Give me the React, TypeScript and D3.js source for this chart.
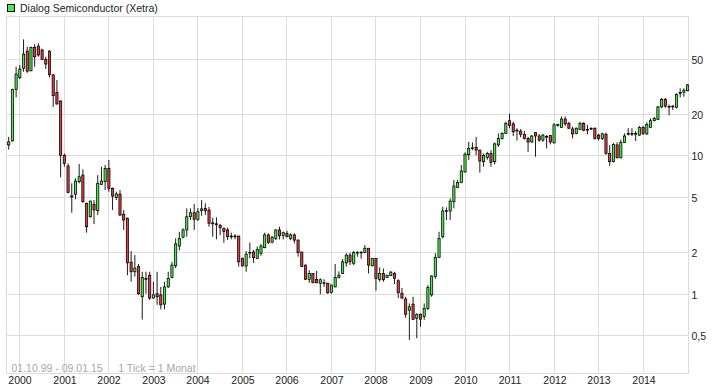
import React from 'react';
import * as d3 from 'd3';

// Monthly candles, Oct 1999 .. Jan 2015
const months: Date[] = d3.timeMonth.range(new Date(1999, 9, 1), new Date(2015, 1, 1));

const openP = [
  11.9, 12.7, 30.0, 36.4, 42.6, 56.7, 40.8, 60.3, 61.6, 57.7, 49.4, 56.7,
  38.2, 28.5, 24.7, 10.0, 8.37, 5.1, 5.23, 6.45, 7.2, 4.5, 3.6, 4.43,
  3.98, 6.17, 6.45, 8.05, 5.77, 4.97, 5.25, 3.75, 3.51, 1.69, 1.44, 1.57,
  0.95, 1.29, 1.36, 0.93, 1.0, 0.98, 0.84, 1.12, 1.31, 1.59, 2.21, 2.56,
  2.89, 3.6, 3.85, 3.45, 4.0, 4.14, 4.02, 3.25, 3.2, 3.12, 2.97, 2.89,
  2.61, 2.6, 2.61, 1.8, 1.585, 1.97, 2.0, 1.8, 1.96, 2.15, 2.66, 2.36,
  2.51, 2.89, 2.64, 2.73, 2.51, 2.66, 2.44, 2.0, 1.61, 1.27, 1.4, 1.27,
  1.19, 1.19, 1.19, 1.02, 1.12, 1.31, 1.4, 1.67, 1.9, 1.66, 1.97, 1.99,
  1.99, 2.13, 1.59, 1.8, 1.27, 1.4, 1.31, 1.35, 1.4, 1.24, 1.007, 0.915,
  0.76, 0.84, 0.664, 0.71, 0.685, 0.784, 0.98, 1.33, 1.83, 2.58, 3.96, 3.96,
  4.62, 5.87, 6.37, 7.59, 10.1, 11.3, 11.4, 10.9, 9.0, 9.65, 10.3, 9.0,
  11.9, 13.25, 14.4, 17.8, 16.9, 15.0, 14.95, 14.2, 13.25, 12.5, 14.6, 13.8,
  12.9, 13.7, 13.9, 12.3, 16.6, 15.9, 18.3, 17.0, 15.5, 14.4, 15.4, 17.0,
  15.3, 15.6, 15.7, 14.0, 13.25, 14.2, 10.3, 9.0, 11.9, 9.6, 12.4, 14.3,
  14.4, 14.3, 14.0, 15.9, 14.3, 15.9, 17.8, 18.2, 22.4, 25.4, 22.4, 22.7,
  22.2, 28.0, 28.6, 29.3,
];
const highP = [
  13.6, 30.3, 43.7, 44.9, 68.9, 60.9, 61.0, 63.7, 64.4, 59.0, 51.6, 57.5,
  38.5, 35.0, 25.0, 10.3, 8.75, 6.28, 6.82, 8.65, 7.92, 4.55, 4.7, 4.75,
  7.2, 8.27, 8.51, 9.25, 5.85, 5.46, 5.61, 4.02, 3.55, 2.03, 1.9, 1.64,
  1.44, 1.44, 1.44, 1.22, 1.44, 1.12, 1.22, 1.44, 1.7, 2.51, 2.8, 2.97,
  4.14, 4.14, 4.45, 4.15, 4.75, 4.5, 4.23, 3.54, 3.56, 3.19, 3.0, 3.0,
  2.76, 2.7, 2.62, 1.82, 2.03, 2.34, 2.07, 2.19, 2.29, 2.76, 2.73, 2.61,
  2.92, 3.05, 2.81, 2.85, 2.73, 2.73, 2.47, 2.01, 1.62, 1.48, 1.41, 1.46,
  1.29, 1.27, 1.2, 1.16, 1.64, 1.45, 1.78, 1.96, 1.98, 2.04, 2.03, 2.01,
  2.25, 2.13, 1.81, 1.8, 1.55, 1.52, 1.37, 1.46, 1.44, 1.27, 1.1, 0.95,
  0.85, 0.95, 0.72, 0.72, 0.85, 1.155, 1.36, 1.96, 2.8, 4.25, 4.2, 4.89,
  6.63, 6.63, 8.51, 10.5, 12.5, 12.4, 13.6, 11.0, 10.3, 10.6, 10.9, 12.4,
  14.4, 14.7, 17.5, 20.0, 17.5, 15.7, 15.5, 15.0, 13.6, 14.0, 14.6, 14.3,
  14.3, 14.0, 14.0, 17.1, 16.9, 19.1, 19.1, 17.5, 16.1, 15.9, 17.5, 17.4,
  16.6, 15.9, 15.9, 14.3, 14.6, 14.6, 11.87, 12.3, 12.4, 13.0, 14.4, 15.7,
  15.7, 15.0, 16.3, 16.3, 17.3, 18.5, 19.0, 22.8, 26.0, 26.0, 23.3, 23.0,
  28.1, 30.5, 30.5, 32.8,
];
const lowP = [
  11.0, 12.6, 26.2, 35.6, 40.2, 39.5, 40.6, 43.7, 51.6, 48.8, 42.1, 36.6,
  22.4, 23.3, 6.93, 8.27, 5.31, 3.85, 4.81, 6.28, 4.55, 2.76, 3.55, 3.19,
  3.7, 6.1, 5.61, 5.46, 4.02, 4.75, 3.65, 2.89, 1.36, 1.22, 1.33, 0.98,
  0.65, 1.0, 0.9, 0.92, 0.83, 0.77, 0.77, 1.1, 1.29, 1.53, 2.05, 2.51,
  2.58, 3.41, 2.89, 3.35, 3.65, 3.7, 3.05, 2.58, 2.47, 2.65, 2.33, 2.44,
  2.47, 2.47, 1.57, 1.57, 1.44, 1.8, 1.67, 1.78, 1.88, 2.13, 2.28, 2.31,
  2.44, 2.47, 2.47, 2.56, 2.44, 2.31, 1.85, 1.56, 1.26, 1.2, 1.19, 1.19,
  0.99, 1.12, 0.995, 1.0, 1.11, 1.29, 1.39, 1.57, 1.61, 1.61, 1.85, 1.79,
  1.96, 1.4, 1.58, 1.05, 1.22, 1.22, 1.3, 1.34, 1.175, 0.93, 0.915, 0.67,
  0.463, 0.646, 0.476, 0.577, 0.646, 0.76, 0.95, 1.28, 1.81, 2.51, 3.41, 3.41,
  4.14, 5.8, 6.28, 7.5, 9.25, 10.9, 10.0, 7.5, 8.27, 9.3, 8.27, 8.6,
  11.5, 13.0, 14.3, 15.7, 13.8, 12.8, 13.5, 13.0, 10.6, 12.3, 9.77, 12.5,
  12.5, 11.2, 12.0, 12.2, 16.1, 15.8, 16.3, 15.5, 13.25, 14.2, 15.2, 14.9,
  14.2, 15.2, 13.0, 12.8, 12.9, 10.1, 8.37, 8.9, 9.5, 9.5, 12.3, 13.9,
  13.8, 12.7, 13.8, 14.0, 14.0, 15.9, 17.6, 18.0, 22.0, 22.0, 19.5, 21.3,
  21.8, 26.2, 26.5, 29.1,
];
const closeP = [
  12.5, 30.0, 38.7, 42.0, 53.9, 40.6, 60.3, 51.6, 53.1, 49.4, 45.7, 38.2,
  27.0, 23.5, 10.0, 8.75, 5.4, 5.0, 6.52, 7.0, 4.62, 3.05, 4.67, 4.03,
  6.28, 6.52, 8.05, 5.77, 5.08, 5.25, 3.7, 3.41, 1.67, 1.44, 1.53, 1.0,
  1.31, 1.27, 0.93, 0.98, 0.95, 0.83, 1.12, 1.29, 1.61, 2.29, 2.51, 2.89,
  3.6, 3.85, 3.45, 3.91, 4.1, 3.98, 3.23, 3.2, 3.15, 3.0, 2.81, 2.58,
  2.59, 2.61, 1.7, 1.59, 1.93, 1.99, 1.82, 2.09, 2.21, 2.66, 2.34, 2.56,
  2.89, 2.62, 2.76, 2.58, 2.66, 2.44, 1.98, 1.57, 1.27, 1.4, 1.2, 1.2,
  1.26, 1.2, 1.017, 1.155, 1.31, 1.36, 1.7, 1.9, 1.7, 1.98, 1.99, 2.0,
  2.13, 1.61, 1.8, 1.29, 1.4, 1.26, 1.36, 1.43, 1.29, 1.017, 0.93, 0.71,
  0.805, 0.653, 0.71, 0.653, 0.784, 1.11, 1.34, 1.83, 2.51, 3.96, 3.98, 4.67,
  6.0, 6.37, 7.7, 10.2, 11.2, 11.35, 10.9, 9.1, 10.0, 10.3, 8.9, 12.1,
  13.25, 14.4, 17.0, 16.4, 14.8, 15.2, 14.2, 13.25, 12.5, 13.8, 13.8, 12.9,
  14.0, 13.55, 12.5, 16.6, 16.7, 18.3, 16.9, 15.7, 14.3, 15.7, 17.0, 15.2,
  15.4, 15.7, 13.25, 13.25, 14.3, 10.3, 9.0, 12.0, 9.6, 12.4, 13.8, 14.4,
  14.3, 14.4, 15.9, 14.4, 16.7, 17.8, 18.5, 22.4, 25.4, 22.7, 22.6, 22.5,
  27.6, 28.5, 29.6, 32.3,
];

const yTickValues = [0.5, 1, 2, 5, 10, 20, 50];
const yTickLabels = ['0,5', '1', '2', '5', '10', '20', '50'];
const yearLabels = ['2000', '2001', '2002', '2003', '2004', '2005', '2006', '2007',
  '2008', '2009', '2010', '2011', '2012', '2013', '2014'];

const W = 720;
const H = 390;
const plot = { left: 6.5, top: 16.5, right: 688.5, bottom: 373.5 };
const GREEN = '#44ee44';
const RED = '#e23c3c';
const GRID = '#dcdcdc';
const FONT = '"Liberation Sans", Arial, Helvetica, sans-serif';

export default function App() {
  const x = d3.scaleLinear().domain([0, months.length - 1]).range([8.2, 687.1]);
  const y = d3.scaleLog().domain([0.267, 100]).range([373, 17]);

  const yearIdx = yearLabels.map((yl) =>
    months.findIndex((m) => m.getFullYear() === +yl && m.getMonth() === 0)
  );

  const candles = months.map((m, i) => {
    const o = openP[i], c = closeP[i], hi = highP[i], lo = lowP[i];
    const cx = x(i) + 0.5;
    const top = y(Math.max(o, c));
    const bot = y(Math.min(o, c));
    const up = c >= o;
    return (
      <g key={i}>
        <line x1={cx} x2={cx} y1={y(hi)} y2={y(lo)} stroke="#000" strokeWidth={0.9} />
        <rect x={cx - 1.1} y={top} width={2.2} height={Math.max(bot - top, 0.8)}
          fill={up ? GREEN : RED} stroke="#000" strokeWidth={0.75} />
      </g>
    );
  });

  return (
    <svg width={W} height={H} style={{ position: 'absolute', left: 0, top: 0, background: '#fff' }}>
      <rect x={0} y={0} width={W} height={H} fill="#fff" />
      <g shapeRendering="crispEdges">
        {yTickValues.map((v) => {
          const yy = Math.round(y(v)) + 0.5;
          return <line key={'gy' + v} x1={plot.left} x2={plot.right} y1={yy} y2={yy} stroke={GRID} />;
        })}
        {yearIdx.map((idx, k) => {
          const xx = Math.round(x(idx)) + 0.5;
          return <line key={'gx' + k} x1={xx} x2={xx} y1={plot.top} y2={plot.bottom} stroke={GRID} />;
        })}
        <rect x={plot.left} y={plot.top} width={plot.right - plot.left} height={plot.bottom - plot.top}
          fill="none" stroke={GRID} />
      </g>
      <text x={11.5} y={371.5} fontFamily={FONT} fontSize={10.5} fill="#a8a8a8">01.10.99 - 09.01.15</text>
      <text x={118.3} y={371.5} fontFamily={FONT} fontSize={10.5} fill="#a8a8a8">1 Tick = 1 Monat</text>
      {candles}
      {yTickValues.map((v, k) => (
        <text key={'ty' + v} x={691.5} y={Math.round(y(v)) + 4.5} fontFamily={FONT} fontSize={10.5} fill="#222">
          {yTickLabels[k]}
        </text>
      ))}
      {yearIdx.map((idx, k) => (
        <text key={'tx' + k} x={Math.round(x(idx)) + 1} y={384} textAnchor="middle" fontFamily={FONT}
          fontSize={10.5} fill="#222">
          {yearLabels[k]}
        </text>
      ))}
      <rect x={7.5} y={4.5} width={7} height={7} fill={GREEN} stroke="#000" shapeRendering="crispEdges" />
      <text x={20} y={12} fontFamily={FONT} fontSize={10.5} fill="#222">Dialog Semiconductor (Xetra)</text>
    </svg>
  );
}
